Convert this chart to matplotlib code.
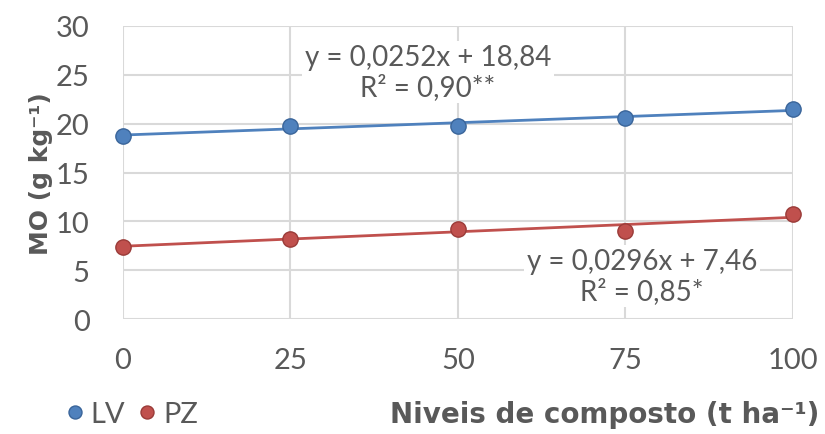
import numpy as np
import matplotlib.pyplot as plt

plt.rcParams['font.family'] = ['Lato', 'DejaVu Sans']

niveis = [0, 25, 50, 75, 100]
lv = [18.7, 19.8, 19.8, 20.6, 21.5]
pz = [7.4, 8.2, 9.2, 9.0, 10.8]

# coeficientes das linhas de tendencia (dos rotulos)
lv_fit = (0.0252, 18.84)
pz_fit = (0.0296, 7.46)

azul = '#4f81bd'
vermelho = '#c0504d'
cinza = '#595959'

fig = plt.figure(figsize=(8.25, 4.35), dpi=100)
ax = fig.add_axes([0.149, 0.264, 0.812, 0.674])

xx = np.array([0, 100])
ax.plot(xx, lv_fit[0] * xx + lv_fit[1], color=azul, lw=2, zorder=3)
ax.plot(xx, pz_fit[0] * xx + pz_fit[1], color=vermelho, lw=2, zorder=3)
ax.plot(niveis, lv, 'o', color=azul, mec='#3a659a', ms=11, label='LV', zorder=4, clip_on=False)
ax.plot(niveis, pz, 'o', color=vermelho, mec='#9a3b38', ms=11, label='PZ', zorder=4, clip_on=False)

ax.set_xlim(0, 100)
ax.set_ylim(0, 30)
ax.set_xticks(niveis)
ax.set_yticks(range(0, 31, 5))
ax.grid(True, color='#d9d9d9', lw=1.5)
ax.set_axisbelow(True)
for s in ax.spines.values():
    s.set_visible(False)
ax.tick_params(length=0, labelsize=21, labelcolor=cinza)
ax.tick_params(axis='x', pad=20)
ax.tick_params(axis='y', pad=24)

ax.text(45.5, 25.3, 'y = 0,0252x + 18,84\nR² = 0,90**', ha='center', va='center',
        fontsize=20, color=cinza, linespacing=1.15,
        bbox=dict(facecolor='white', edgecolor='none', pad=2), zorder=5)
ax.text(77.5, 4.4, 'y = 0,0296x + 7,46\nR² = 0,85*', ha='center', va='center',
        fontsize=20, color=cinza, linespacing=1.15,
        bbox=dict(facecolor='white', edgecolor='none', pad=2), zorder=5)

rotulo_fonte = ['DejaVu Sans']
ax.set_ylabel('MO (g kg⁻¹)', fontsize=18, fontweight='bold', color=cinza, labelpad=2,
              family=rotulo_fonte)
fig.text(0.993, 0.045, 'Niveis de composto (t ha⁻¹)', ha='right', va='center',
         fontsize=20, fontweight='bold', color=cinza, family=rotulo_fonte)

leg = fig.legend(loc='center left', bbox_to_anchor=(0.05, 0.045), ncol=2, frameon=False,
                 fontsize=21, handlelength=0.5, handletextpad=0.3, columnspacing=0.5,
                 labelcolor=cinza, markerscale=0.85)

fig.savefig('out.png', dpi=100)
